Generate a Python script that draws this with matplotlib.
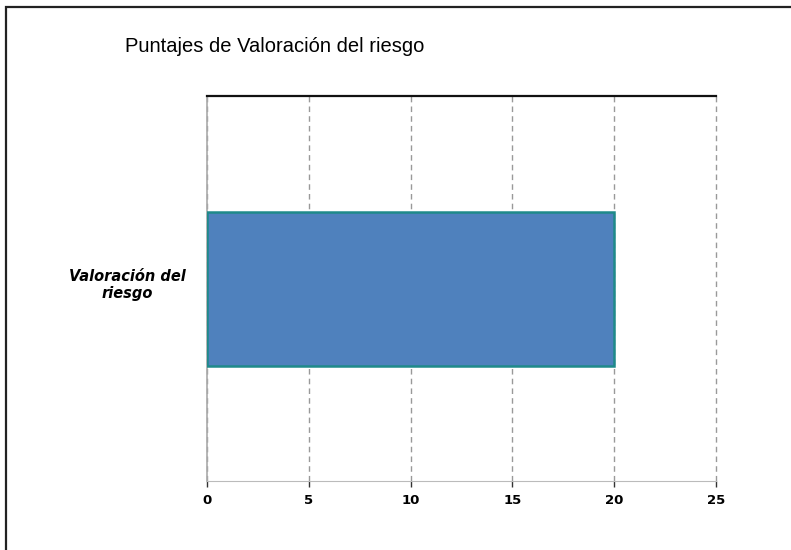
import matplotlib.pyplot as plt
from matplotlib.patches import Rectangle

categories = ['Valoración del\nriesgo']
values = [20]
x_ticks = [0, 5, 10, 15, 20, 25]

fig = plt.figure(figsize=(7.91, 5.5), dpi=100)
plt.rcParams['font.family'] = ['Liberation Sans', 'DejaVu Sans']

# frame around the whole chart (only left/top visible in the original)
fig.patches.append(Rectangle((6 / 791, -0.1), 1.2, 1 - 7 / 550 + 0.1,
                             transform=fig.transFigure, fill=False,
                             edgecolor='#222222', linewidth=1.6))

ax = fig.add_axes([207 / 791, 1 - 481 / 550, (716 - 207) / 791, (481 - 96) / 550])
ax.barh([0], values, height=0.8, color='#4F81BD', edgecolor='#1F8A8A', linewidth=1.8, zorder=3)
ax.set_xlim(0, 25)
ax.set_ylim(-1, 1)
ax.set_xticks(x_ticks)
ax.set_xticklabels([str(t) for t in x_ticks], fontsize=9.5, fontweight='bold',
                   family='DejaVu Sans')
ax.set_yticks([])
ax.xaxis.grid(True, linestyle=(0, (4, 3)), color='#999999', linewidth=1.0)
for gl in ax.get_xgridlines():
    gl.set_clip_on(False)
ax.tick_params(axis='x', length=4, width=1, color='#333333', pad=5)

ax.spines['top'].set_color('#111111')
ax.spines['top'].set_linewidth(1.6)
ax.spines['top'].set_zorder(4)
ax.spines['left'].set_color('#aaaaaa')
ax.spines['left'].set_linewidth(1.2)
ax.spines['bottom'].set_color('#bbbbbb')
ax.spines['right'].set_visible(False)

fig.text(127 / 791, 1 - 285 / 550, categories[0], ha='center', va='center',
         fontsize=10.5, fontweight='bold', fontstyle='italic', linespacing=1.1,
         family='DejaVu Sans')
fig.text(125 / 791, 1 - 46 / 550, 'Puntajes de Valoración del riesgo',
         ha='left', va='center', fontsize=14.5)

fig.savefig('out.png', dpi=100)
